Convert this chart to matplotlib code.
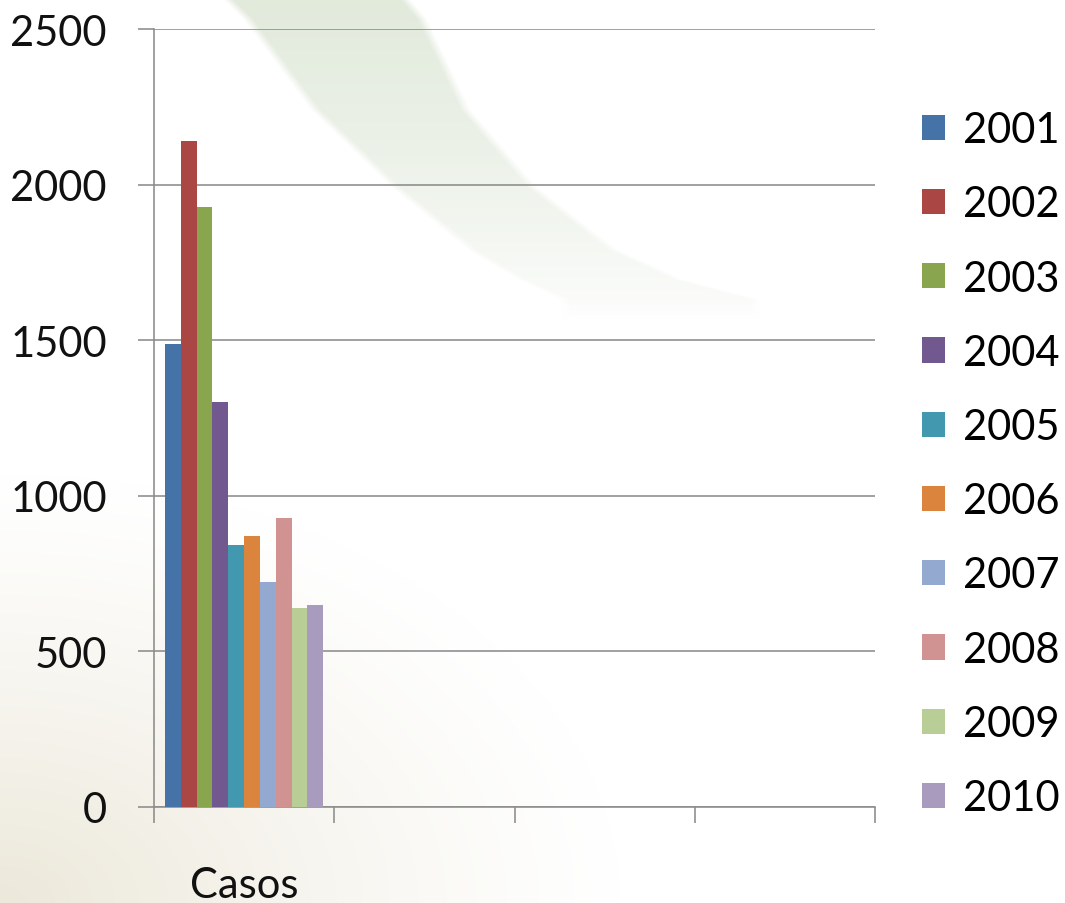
import numpy as np
import matplotlib
matplotlib.use("Agg")
import matplotlib.pyplot as plt

plt.rcParams['font.family'] = ['Lato', 'DejaVu Sans']

# data
categories = ["Casos", "", "", ""]
years = ["2001", "2002", "2003", "2004", "2005", "2006", "2007", "2008", "2009", "2010"]
casos = [1488, 2141, 1928, 1300, 842, 870, 724, 929, 638, 649]
colors = ["#4572A7", "#AA4643", "#89A54E", "#71588F", "#4198AF",
          "#DB843D", "#93A9CF", "#D19392", "#B9CD96", "#A99BBD"]
yticks = [0, 500, 1000, 1500, 2000, 2500]

W, H = 1065, 904
PT = 0.72  # points per pixel at dpi 100
fig = plt.figure(figsize=(W / 100, H / 100), dpi=100)

# ---- background: beige corner + pale green swoosh ----
yy, xx = np.mgrid[0:H, 0:W].astype(float)
bg = np.ones((H, W, 3))
d = np.sqrt((xx / 620.0) ** 2 + ((H - yy) / 430.0) ** 2)
beige = np.clip(1 - d, 0, 1) ** 1.2
bg -= beige[..., None] * (np.array([255, 255, 255]) - np.array([236, 232, 218]))[None, None, :] / 255.0
ey = np.array([0, 20, 110, 187, 250, 280, 300])
left_x = np.array([223, 243, 310, 390, 467, 517, 560])
right_x = np.array([410, 427, 470, 536, 617, 683, 760])
xl = np.interp(yy, ey, left_x)
xr = np.interp(yy, ey, right_x)
soft = 10.0
inside = np.clip((xx - xl) / soft, 0, 1) * np.clip((xr - xx) / soft, 0, 1)
fade = np.clip(1 - yy / 320.0, 0, 1) ** 0.7
band = inside * fade
bg -= band[..., None] * (np.array([255, 255, 255]) - np.array([226, 234, 220]))[None, None, :] / 255.0
bgax = fig.add_axes([0, 0, 1, 1], zorder=-1)
bgax.imshow(np.clip(bg, 0, 1), aspect='auto', extent=[0, W, H, 0])
bgax.axis("off")

# ---- main chart ----
ax = fig.add_axes([154 / W, 1 - 808 / H, (875 - 154) / W, (808 - 30) / H])
ax.set_facecolor("none")

n = len(years)
bar_w = 0.0878
start = 0.5 - n * bar_w / 2
for i in range(n):
    ax.bar(start + (i + 0.5) * bar_w, casos[i], width=bar_w, color=colors[i],
           label=years[i], zorder=3, edgecolor="none")

grid_c = "#8C8C8C"
lw = 1.6 * PT
ax.set_xlim(0, len(categories))
ax.set_ylim(0, 2500)
ax.set_yticks(yticks)
ax.set_yticklabels([str(v) for v in yticks], fontsize=30, color="#111111")
ax.yaxis.grid(True, color=grid_c, linewidth=lw, zorder=0)
ax.set_xticks(range(len(categories) + 1))
ax.set_xticklabels([])
ax.set_xticks([c + 0.5 for c in range(len(categories))], minor=True)
ax.set_xticklabels(categories, minor=True, fontsize=30, color="#111111")
ax.tick_params(axis="x", which="minor", length=0, pad=59 * PT)
ax.tick_params(axis="x", which="major", length=16 * PT, width=lw, color=grid_c)
ax.tick_params(axis="y", length=16 * PT, width=lw, color=grid_c, pad=31 * PT)
for s in ["top", "right"]:
    ax.spines[s].set_visible(False)
for s in ["left", "bottom"]:
    ax.spines[s].set_color(grid_c)
    ax.spines[s].set_linewidth(lw)

fig.legend(loc="upper left", bbox_to_anchor=(922 / W, 1 - 112 / H), frameon=False,
           fontsize=30, handlelength=0.55, handleheight=0.55, handletextpad=0.43,
           labelspacing=0.87, borderpad=0, borderaxespad=0)

fig.savefig("out.png", dpi=100)
